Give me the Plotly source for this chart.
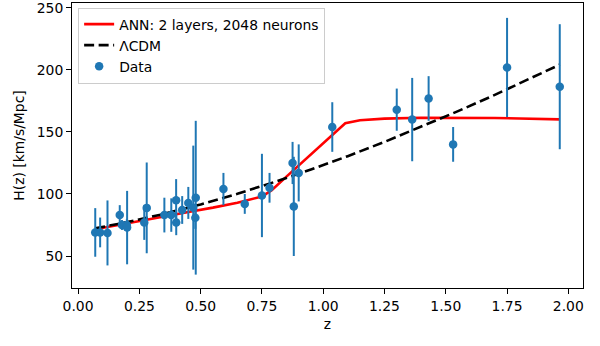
import plotly.graph_objects as go

# Observational H(z) data (cosmic chronometers)
z_data = [0.07, 0.09, 0.12, 0.17, 0.179, 0.199, 0.2, 0.27, 0.28, 0.352, 0.3802,
          0.4, 0.4004, 0.4247, 0.4497, 0.47, 0.4783, 0.48, 0.593, 0.68, 0.75,
          0.781, 0.875, 0.88, 0.9, 1.037, 1.3, 1.363, 1.43, 1.53, 1.75, 1.965]
H_data = [69, 69, 68.6, 83, 75, 75, 72.9, 77, 88.8, 83, 83,
          95, 77, 87.1, 92.8, 89, 80.9, 97, 104, 92, 98.8,
          105, 125, 90, 117, 154, 168, 160, 177, 140, 202, 186.5]
H_err = [19.6, 12, 26.2, 8, 4, 5, 29.6, 14, 36.6, 14, 13.5,
         17, 10.2, 11.2, 12.9, 50, 9, 62, 13, 8, 33.6,
         12, 17, 40, 23, 20, 17, 33.6, 18, 14, 40, 50.4]

# ANN reconstruction curve
z_ann = [0.07, 0.15, 0.25, 0.35, 0.45, 0.55, 0.65, 0.75, 0.79, 0.85, 0.9,
         0.95, 1.0, 1.05, 1.09, 1.15, 1.25, 1.4, 1.5, 1.6, 1.7, 1.8, 1.9, 1.965]
H_ann = [71.5, 74.5, 78.5, 82, 85.5, 89, 93, 98, 103, 114, 123,
         132, 141, 150, 157, 159.5, 160.8, 161.5, 161.6, 161.6, 161.3, 160.9, 160.5, 160.2]

# LCDM curve
z_lcdm = [0.07, 0.2, 0.35, 0.5, 0.65, 0.8, 0.95, 1.1, 1.25, 1.4, 1.55, 1.7, 1.85, 1.965]
H_lcdm = [72.3, 77.3, 83.9, 91.6, 100.2, 109.6, 119.7, 130.5, 142.0, 154.1, 166.8, 179.9, 193.5, 204.3]

x_ticks = [0.0, 0.25, 0.5, 0.75, 1.0, 1.25, 1.5, 1.75, 2.0]
y_ticks = [50, 100, 150, 200, 250]

FONT = "DejaVu Sans"
FS = 13.9

fig = go.Figure()
fig.add_trace(go.Scatter(
    x=z_ann, y=H_ann, mode="lines", name="ANN: 2 layers, 2048 neurons",
    line=dict(color="red", width=2.6), legendrank=1))
fig.add_trace(go.Scatter(
    x=z_lcdm, y=H_lcdm, mode="lines", name="ΛCDM",
    line=dict(color="black", width=2.6, dash="10px,4.5px"), legendrank=2))
fig.add_trace(go.Scatter(
    x=z_data, y=H_data, mode="markers", name="Data",
    marker=dict(color="#1f77b4", size=8.5),
    error_y=dict(type="data", array=H_err, visible=True, color="#1f77b4",
                 thickness=2, width=0),
    legendrank=3))

axis_common = dict(
    showline=True, mirror=True, linecolor="black", linewidth=1,
    ticks="outside", ticklen=5, tickwidth=1, tickcolor="black",
    showgrid=False, zeroline=False, automargin=False,
    ticklabeloverflow="allow",
    tickfont=dict(family=FONT, size=FS, color="black"),
)

fig.update_xaxes(
    range=[-0.0248, 2.0598], tickvals=x_ticks,
    ticktext=[f"{v:.2f}" for v in x_ticks],
    title=dict(text="z", font=dict(family=FONT, size=FS, color="black"), standoff=6),
    **axis_common)
fig.update_yaxes(
    range=[24.2, 254], tickvals=y_ticks,
    ticktext=[str(v) for v in y_ticks],
    title=dict(text="H(z) [km/s/Mpc]", font=dict(family=FONT, size=FS, color="black"), standoff=8),
    **axis_common)

fig.update_layout(
    width=600, height=346,
    margin=dict(l=72, r=17, t=3, b=58, autoexpand=False),
    paper_bgcolor="white", plot_bgcolor="white",
    font=dict(family=FONT, size=FS, color="black"),
    legend=dict(
        x=0.012, y=0.984, xanchor="left", yanchor="top",
        bgcolor="rgba(255,255,255,0.8)", bordercolor="#cccccc", borderwidth=1,
        font=dict(family=FONT, size=FS, color="black"),
        tracegroupgap=0, itemwidth=30,
    ),
    showlegend=True,
)

fig.write_html(
    "out.html",
    config={"displayModeBar": False},
    post_script="document.body.style.margin='0';document.body.style.overflow='hidden';",
)
